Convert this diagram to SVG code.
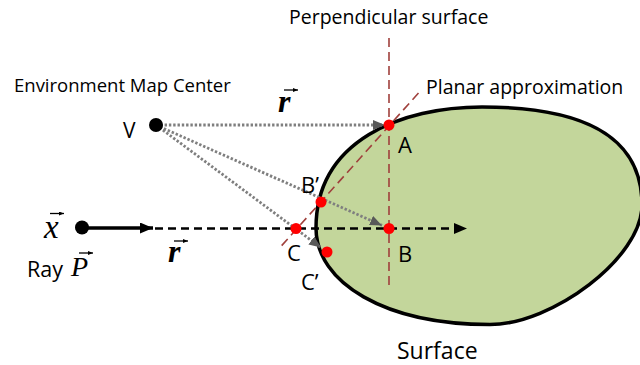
<svg xmlns="http://www.w3.org/2000/svg" width="640" height="365" viewBox="0 0 640 365">
<style>
.lbl{font-family:"Open Sans","Liberation Sans",sans-serif;fill:#000}
.vec{font-family:"Liberation Serif",serif;font-style:italic;fill:#000}
.pt{fill:#FF0000}
.guide{stroke:#A0403C;stroke-width:1.6;stroke-dasharray:9 5;fill:none}
.dot{stroke:#7F7F7F;stroke-width:2.8;stroke-dasharray:2.4 1.9;fill:none}
.vecarrow{stroke:#000;stroke-width:1.3;fill:none}
</style>
<defs>
<marker id="grayHead" markerUnits="userSpaceOnUse" markerWidth="12" markerHeight="10" refX="12" refY="5" orient="auto">
<path d="M0,0 L12,5 L0,10 z" fill="#595959"/>
</marker>
<marker id="blackHead" markerUnits="userSpaceOnUse" markerWidth="13" markerHeight="11" refX="13" refY="5.5" orient="auto">
<path d="M0,0 L13,5.5 L0,11 z" fill="#000"/>
</marker>
<marker id="smallHead" markerUnits="userSpaceOnUse" markerWidth="5" markerHeight="4" refX="5" refY="2" orient="auto">
<path d="M0,0 L5,2 L0,4 z" fill="#000"/>
</marker>
</defs>

<g id="surface">
<path d="M316,228 C316,140 402,107 482,107 C582,107 642,135 642,205 C642,258 552,324.5 490,324.5 C385,324.5 316,283 316,228 Z" fill="#C3D69B" stroke="#000" stroke-width="3.5"/>
<text class="lbl" x="397" y="359" font-size="23">Surface</text>
</g>

<g id="connectors">
<line id="perpendicular-surface" class="guide" x1="389" y1="38" x2="389" y2="286"/>
<line id="planar-approximation" class="guide" x1="418.5" y1="93" x2="280" y2="247.5"/>
<line id="ray-solid" x1="82" y1="228" x2="153" y2="228" stroke="#000" stroke-width="3.5" marker-end="url(#blackHead)"/>
<line id="ray-dashed" x1="155" y1="228.5" x2="467" y2="228.5" stroke="#000" stroke-width="2.5" stroke-dasharray="8 5" marker-end="url(#blackHead)"/>
<line id="V-A" class="dot" x1="156" y1="125" x2="385" y2="125" marker-end="url(#grayHead)"/>
<line id="V-B" class="dot" x1="156" y1="125" x2="382" y2="225.4" marker-end="url(#grayHead)"/>
<line id="V-Cp" class="dot" x1="156" y1="125" x2="321" y2="247.6" marker-end="url(#grayHead)"/>
</g>

<g id="perpendicular-label"><text class="lbl" x="289" y="24" font-size="19.5">Perpendicular surface</text></g>
<g id="planar-label"><text class="lbl" x="426" y="94" font-size="19.5">Planar approximation</text></g>

<g id="V">
<circle cx="156" cy="125" r="7" fill="#000"/>
<text class="lbl" x="123" y="137.5" font-size="21">V</text>
<text class="lbl" x="14" y="91.5" font-size="18.5">Environment Map Center</text>
</g>

<g id="x">
<circle cx="82" cy="227.5" r="7" fill="#000"/>
<text class="vec" x="44" y="238" font-size="33">x</text>
<line class="vecarrow" x1="50" y1="213.5" x2="64" y2="213.5" marker-end="url(#smallHead)"/>
<text class="lbl" x="27" y="277" font-size="21.5">Ray</text>
<text class="vec" x="71" y="276" font-size="28">P</text>
<line class="vecarrow" x1="79" y1="253" x2="93" y2="253" marker-end="url(#smallHead)"/>
</g>

<g id="r-lower">
<text class="vec" x="168" y="262" font-size="32" font-weight="bold">r</text>
<line class="vecarrow" x1="174" y1="241" x2="188" y2="241" marker-end="url(#smallHead)"/>
</g>
<g id="r-upper">
<text class="vec" x="278" y="112" font-size="32" font-weight="bold">r</text>
<line class="vecarrow" x1="284" y1="90" x2="298" y2="90" marker-end="url(#smallHead)"/>
</g>

<g id="A"><circle class="pt" cx="389" cy="125" r="5.5"/><text class="lbl" x="398" y="152.5" font-size="22">A</text></g>
<g id="Bp"><circle class="pt" cx="321" cy="202" r="5.5"/><text class="lbl" x="301" y="193" font-size="22">B’</text></g>
<g id="C"><circle class="pt" cx="296" cy="228.5" r="5.5"/><text class="lbl" x="287" y="261" font-size="22">C</text></g>
<g id="Cp"><circle class="pt" cx="327" cy="252" r="5.5"/><text class="lbl" x="301" y="290" font-size="22">C’</text></g>
<g id="B"><circle class="pt" cx="389" cy="228.5" r="5.5"/><text class="lbl" x="398" y="261.5" font-size="22">B</text></g>
</svg>
